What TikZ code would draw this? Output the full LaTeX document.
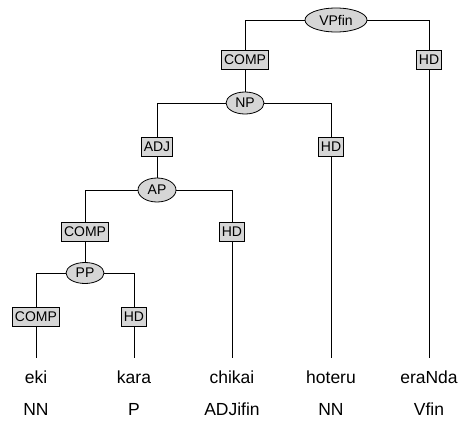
\documentclass[tikz,border=0pt]{standalone}
\usepackage{fontspec}
\setmainfont{Liberation Sans}
\usetikzlibrary{shapes.geometric}
\definecolor{boxgray}{gray}{0.84}

\tikzset{
  phrase/.style={ellipse, draw, line width=0.8pt, fill=boxgray, inner sep=0pt,
    minimum width=38pt, minimum height=24pt, font=\fontsize{14}{16}\selectfont},
  role/.style={rectangle, draw, line width=0.8pt, fill=boxgray, inner xsep=2.5pt,
    inner ysep=0pt, minimum height=19pt, font=\fontsize{14}{16}\selectfont},
  word/.style={anchor=base, font=\fontsize{17.5}{20}\selectfont},
  branch/.style={line width=0.9pt},
}

\begin{document}
\begin{tikzpicture}[x=1pt, y=-1pt]
  \useasboundingbox (0,0) rectangle (461,421);

  % phrase nodes
  \node[phrase, minimum width=62pt] (vp) at (336,20) {VPfin};
  \node[phrase, minimum height=22pt] (np) at (245,103) {NP};
  \node[phrase] (ap) at (157,190) {AP};
  \node[phrase, minimum height=21pt] (pp) at (85,273) {PP};

  % grammatical roles
  \node[role] (vpcomp) at (245,60) {COMP};
  \node[role] (vphd) at (429,60) {HD};
  \node[role] (npadj) at (157,147) {ADJ};
  \node[role] (nphd) at (331,147) {HD};
  \node[role] (apcomp) at (85,232) {COMP};
  \node[role] (aphd) at (232,232) {HD};
  \node[role] (ppcomp) at (36,317) {COMP};
  \node[role] (pphd) at (134,317) {HD};

  % words and their tags
  \node[word] (eki) at (36,383) {eki};
  \node[word] (kara) at (134,383) {kara};
  \node[word] (chikai) at (232,383) {chikai};
  \node[word] (hoteru) at (331,383) {hoteru};
  \node[word] (eranda) at (429,383) {eraNda};
  \node[word] (nn1) at (36,415) {NN};
  \node[word] (p) at (134,415) {P};
  \node[word] (adji) at (232,415) {ADJifin};
  \node[word] (nn2) at (331,415) {NN};
  \node[word] (vfin) at (429,415) {Vfin};

  % branches
  \draw[branch] (vp.west) -| (vpcomp.north);
  \draw[branch] (vp.east) -| (vphd.north);
  \draw[branch] (vpcomp.south) -- (np.north);
  \draw[branch] (np.west) -| (npadj.north);
  \draw[branch] (np.east) -| (nphd.north);
  \draw[branch] (npadj.south) -- (ap.north);
  \draw[branch] (ap.west) -| (apcomp.north);
  \draw[branch] (ap.east) -| (aphd.north);
  \draw[branch] (apcomp.south) -- (pp.north);
  \draw[branch] (pp.west) -| (ppcomp.north);
  \draw[branch] (pp.east) -| (pphd.north);

  \draw[branch, shorten >=9pt] (ppcomp.south) -- (eki.north);
  \draw[branch, shorten >=9pt] (pphd.south) -- (kara.north);
  \draw[branch, shorten >=9pt] (aphd.south) -- (chikai.north);
  \draw[branch, shorten >=9pt] (nphd.south) -- (hoteru.north);
  \draw[branch, shorten >=9pt] (vphd.south) -- (eranda.north);
\end{tikzpicture}
\end{document}
